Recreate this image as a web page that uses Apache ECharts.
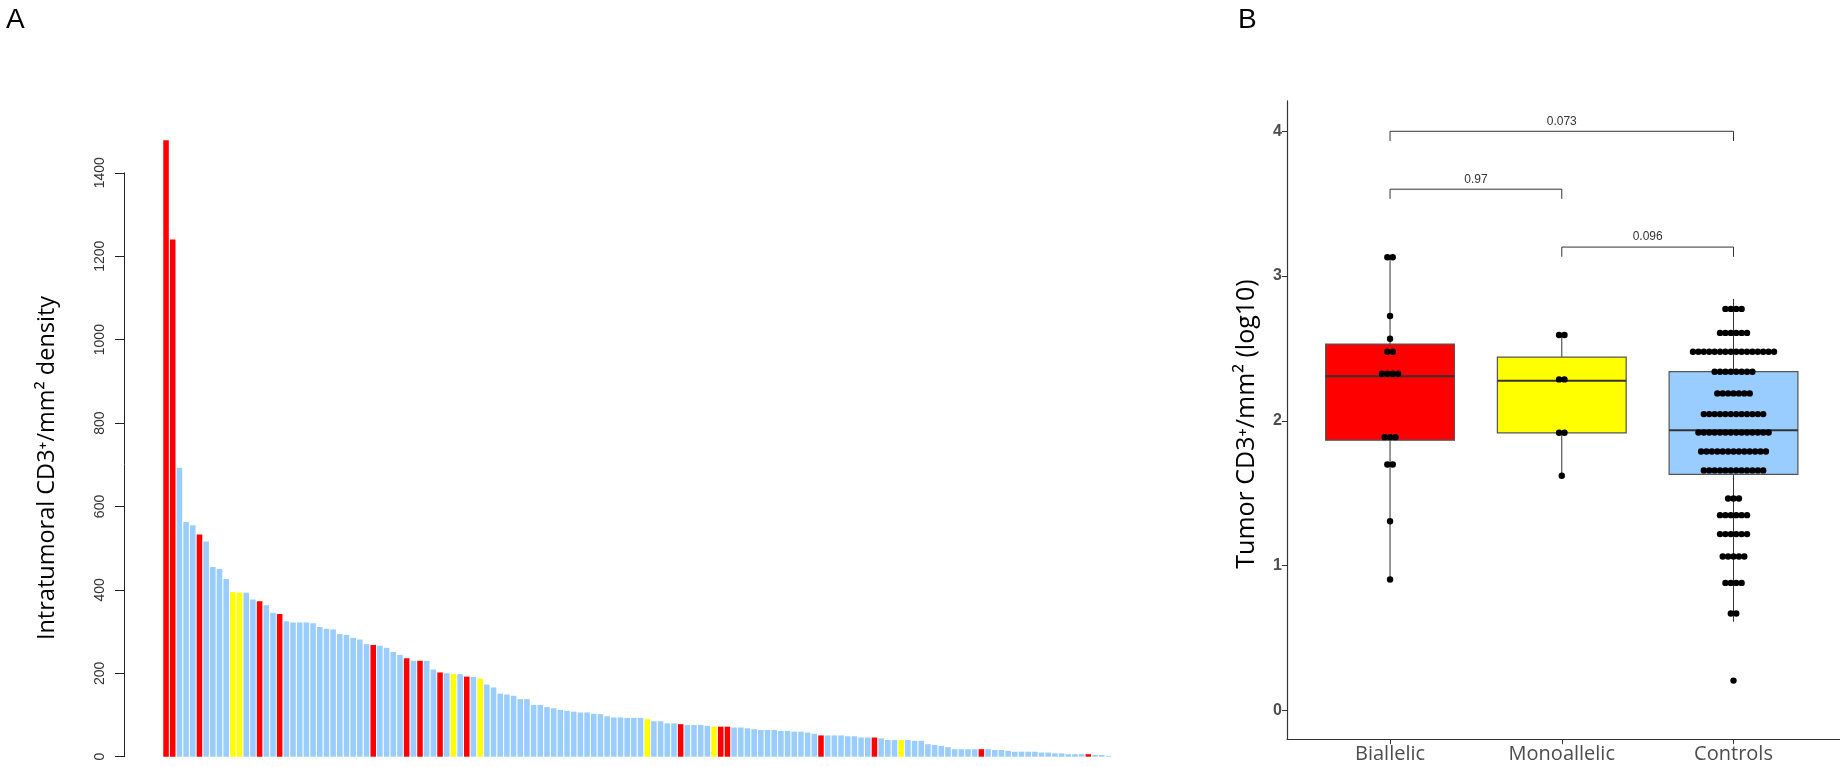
<!DOCTYPE html>
<html><head><meta charset="utf-8">
<script src="https://cdn.jsdelivr.net/npm/echarts@6/dist/echarts.min.js"></script>
<style>html,body{margin:0;padding:0;background:#fff}#c{width:1840px;height:767px}</style>
</head><body><div id="c"></div>
<script>
// ---------- Panel A data: intratumoral CD3+ density per sample (sorted) ----------
const barValues = [
  1478,1240,693,563,555,533,516,455,450,426,
  395,393,393,377,373,363,345,342,325,322,
  322,322,320,311,307,305,294,292,285,281,
  270,268,266,261,251,244,236,230,230,230,
  209,202,200,198,198,192,191,187,173,166,
  151,149,146,138,138,124,124,119,116,112,
  110,108,106,106,103,102,97,94,94,93,
  93,93,90,85,85,80,80,78,76,76,
  76,74,72,72,72,70,70,68,66,64,
  64,64,62,62,60,60,58,55,51,51,
  51,51,49,49,46,46,46,44,40,40,
  40,40,38,38,30,28,26,23,18,18,
  18,18,18,18,16,16,14,12,12,12,
  12,10,10,8,8,6,6,6,6,4,
  4,2
];
// B = biallelic, M = monoallelic, C = control
const barGroups = [
  'B','B','C','C','C','B','C','C','C','C',
  'M','M','C','C','B','C','C','B','C','C',
  'C','C','C','C','C','C','C','C','C','C',
  'C','B','C','C','C','C','B','C','B','C',
  'C','B','C','M','C','B','C','M','C','C',
  'C','C','C','C','C','C','C','C','C','C',
  'C','C','C','C','C','C','C','C','C','C',
  'C','C','M','C','C','C','C','B','C','C',
  'C','C','M','B','B','C','C','C','C','C',
  'C','C','C','C','C','C','C','C','B','C',
  'C','C','C','C','C','C','B','C','C','C',
  'M','C','C','C','C','C','C','C','C','C',
  'C','C','B','C','C','C','C','C','C','C',
  'C','C','C','C','C','C','C','C','B','C',
  'C','C'
];
const sampleIds = barValues.map((_, i) => 'S' + (i + 1));
const axisATicks = [0, 200, 400, 600, 800, 1000, 1200, 1400];

// ---------- Panel B data: log10 tumor CD3+/mm2 ----------
const boxGroups = ['Biallelic', 'Monoallelic', 'Controls'];
const boxLowWhisker  = [0.903, 1.620, 0.611];
const boxQ1          = [1.866, 1.917, 1.629];
const boxMedian      = [2.307, 2.277, 1.935];
const boxQ3          = [2.530, 2.440, 2.339];
const boxHighWhisker = [3.140, 2.593, 2.842];

const biallelicDotBins   = [3.130, 2.724, 2.567, 2.477, 2.325, 1.887, 1.698, 1.306, 0.903];
const biallelicDotCounts = [2, 1, 1, 2, 4, 3, 2, 1, 1];
const monoDotBins        = [2.593, 2.286, 1.917, 1.620];
const monoDotCounts      = [2, 2, 2, 1];
const controlDotBins     = [2.773, 2.607, 2.477, 2.339, 2.189, 2.046, 1.919, 1.788, 1.657, 1.463, 1.348, 1.217, 1.062, 0.880, 0.668, 0.205];
const controlDotCounts   = [4, 6, 16, 8, 7, 12, 14, 13, 12, 3, 6, 6, 5, 4, 2, 1];

const bracketFrom   = [1, 1, 2];
const bracketTo     = [3, 2, 3];
const bracketY      = [4.0, 3.6, 3.2];
const bracketLabels = ['0.073', '0.97', '0.096'];
const axisBTicks = [0, 1, 2, 3, 4];

// ---------- styling / layout ----------
const groupColor = { B: '#FF0000', M: '#FFFF00', C: '#99CCFF' };
const boxColors = ['#FF0000', '#FFFF00', '#99CCFF'];
const A_BASE = 756.7, A_PX = 583.9 / 1400;
const A_AXIS_MAX = 1400, A_BAR_MAX = 1500;

const chart = echarts.init(document.getElementById('c'));

const boxData = boxGroups.map((g, i) => [i + 1, boxLowWhisker[i], boxQ1[i], boxMedian[i], boxQ3[i], boxHighWhisker[i], i]);
const dotData = [];
[[biallelicDotBins, biallelicDotCounts], [monoDotBins, monoDotCounts], [controlDotBins, controlDotCounts]]
  .forEach(([bins, counts], gi) => bins.forEach((b, j) => dotData.push([gi + 1, b, counts[j]])));
const bracketData = bracketFrom.map((f, i) => [f, bracketTo[i], bracketY[i], i]);

function renderBox(params, api) {
  const x = api.value(0);
  const lo = api.coord([x, api.value(1)]);
  const q1 = api.coord([x, api.value(2)]);
  const md = api.coord([x, api.value(3)]);
  const q3 = api.coord([x, api.value(4)]);
  const hi = api.coord([x, api.value(5)]);
  const w = api.size([0.75, 0])[0];
  const col = boxColors[api.value(6)];
  return {
    type: 'group',
    children: [
      { type: 'line', shape: { x1: hi[0], y1: hi[1], x2: q3[0], y2: q3[1] }, style: { stroke: '#333', lineWidth: 1 } },
      { type: 'line', shape: { x1: q1[0], y1: q1[1], x2: lo[0], y2: lo[1] }, style: { stroke: '#333', lineWidth: 1 } },
      { type: 'rect', shape: { x: q3[0] - w / 2, y: q3[1], width: w, height: q1[1] - q3[1] }, style: { fill: col, stroke: '#555', lineWidth: 1.2 } },
      { type: 'line', shape: { x1: md[0] - w / 2, y1: md[1], x2: md[0] + w / 2, y2: md[1] }, style: { stroke: '#333', lineWidth: 2 } }
    ]
  };
}
function renderDots(params, api) {
  const c = api.coord([api.value(0), api.value(1)]);
  const n = api.value(2);
  const step = 5.4;
  const children = [];
  for (let k = 0; k < n; k++) {
    children.push({ type: 'circle', shape: { cx: c[0] + (k - (n - 1) / 2) * step, cy: c[1], r: 3.2 }, style: { fill: '#000' } });
  }
  return { type: 'group', children };
}
function renderBracket(params, api) {
  const x1 = api.value(0), x2 = api.value(1), y = api.value(2);
  const drop = 0.067;
  const p1 = api.coord([x1, y - drop]), p2 = api.coord([x1, y]), p3 = api.coord([x2, y]), p4 = api.coord([x2, y - drop]);
  const mid = api.coord([(x1 + x2) / 2, y]);
  return {
    type: 'group',
    children: [
      { type: 'polyline', shape: { points: [p1, p2, p3, p4] }, style: { stroke: '#333', lineWidth: 1, fill: null } },
      { type: 'text', x: mid[0], y: mid[1] - 4, style: { text: bracketLabels[api.value(3)], fontSize: 12, fill: '#333', align: 'center', verticalAlign: 'bottom', fontFamily: 'Liberation Sans, Arial' } }
    ]
  };
}

const option = {
  animation: false,
  backgroundColor: '#fff',
  graphic: [
    { type: 'text', left: 6, top: 6, style: { text: 'A', fontSize: 28, fill: '#000', fontFamily: 'Liberation Sans, Arial' } },
    { type: 'text', left: 1238, top: 6, style: { text: 'B', fontSize: 28, fill: '#000', fontFamily: 'Liberation Sans, Arial' } },
    { type: 'text', x: 47, y: 468, rotation: Math.PI / 2,
      style: { text: 'Intratumoral CD3⁺/mm² density', fontSize: 23.5, fill: '#000', align: 'center', verticalAlign: 'middle', fontFamily: 'Open Sans, Noto Sans, sans-serif' } },
    { type: 'text', x: 1247, y: 424, rotation: Math.PI / 2,
      style: { text: 'Tumor CD3⁺/mm² (log10)', fontSize: 25, fill: '#000', align: 'center', verticalAlign: 'middle', fontFamily: 'Open Sans, Noto Sans, sans-serif' } }
  ],
  grid: [
    { left: 124, width: 1, top: A_BASE - A_AXIS_MAX * A_PX, height: A_AXIS_MAX * A_PX },
    { left: 162.7, width: 949, top: A_BASE - A_BAR_MAX * A_PX, height: A_BAR_MAX * A_PX },
    { left: 1287, right: 0, top: 100.9, height: 638.3 }
  ],
  xAxis: [
    { gridIndex: 0, type: 'value', min: 0, max: 1, show: false },
    { gridIndex: 1, type: 'category', data: sampleIds, show: false },
    { gridIndex: 2, type: 'value', min: 0.4, max: 3.62,
      axisLine: { show: true, onZero: false, lineStyle: { color: '#333', width: 1.2 } },
      axisTick: { show: true, customValues: [1, 2, 3], length: 5, lineStyle: { color: '#333' } },
      axisLabel: { show: true, customValues: [1, 2, 3], formatter: v => boxGroups[Math.round(v) - 1] || '', fontSize: 20, color: '#4D4D4D', margin: 5, fontFamily: 'Open Sans, Noto Sans, sans-serif' },
      splitLine: { show: false } }
  ],
  yAxis: [
    { gridIndex: 0, type: 'value', min: 0, max: A_AXIS_MAX, interval: 200,
      axisLine: { show: true, lineStyle: { color: '#222', width: 1 } },
      axisTick: { show: true, length: 9, lineStyle: { color: '#222' } },
      axisLabel: { rotate: 90, fontSize: 14, color: '#333', margin: 17, fontFamily: 'Liberation Sans, Arial',
        customValues: axisATicks, formatter: v => String(v) },
      splitLine: { show: false } },
    { gridIndex: 1, type: 'value', min: 0, max: A_BAR_MAX, show: false },
    { gridIndex: 2, type: 'value', min: -0.2, max: 4.21,
      axisLine: { show: true, onZero: false, lineStyle: { color: '#333', width: 1.2 } },
      axisTick: { show: true, customValues: axisBTicks, length: 5, lineStyle: { color: '#333' } },
      axisLabel: { show: true, customValues: axisBTicks, fontSize: 16, fontWeight: 'bold', color: '#4D4D4D', margin: 5,
        fontFamily: 'Liberation Sans Narrow, Liberation Sans, Arial' },
      splitLine: { show: false } }
  ],
  series: [
    { type: 'scatter', xAxisIndex: 0, yAxisIndex: 0, data: [] },
    { type: 'bar', xAxisIndex: 1, yAxisIndex: 1, barCategoryGap: '17%',
      data: barValues.map((v, i) => ({ value: v, itemStyle: { color: groupColor[barGroups[i]] } })) },
    { type: 'custom', xAxisIndex: 2, yAxisIndex: 2, renderItem: renderBox, data: boxData, z: 2 },
    { type: 'custom', xAxisIndex: 2, yAxisIndex: 2, renderItem: renderDots, data: dotData, z: 3 },
    { type: 'custom', xAxisIndex: 2, yAxisIndex: 2, renderItem: renderBracket, data: bracketData, z: 3 }
  ]
};
chart.setOption(option);
</script></body></html>
